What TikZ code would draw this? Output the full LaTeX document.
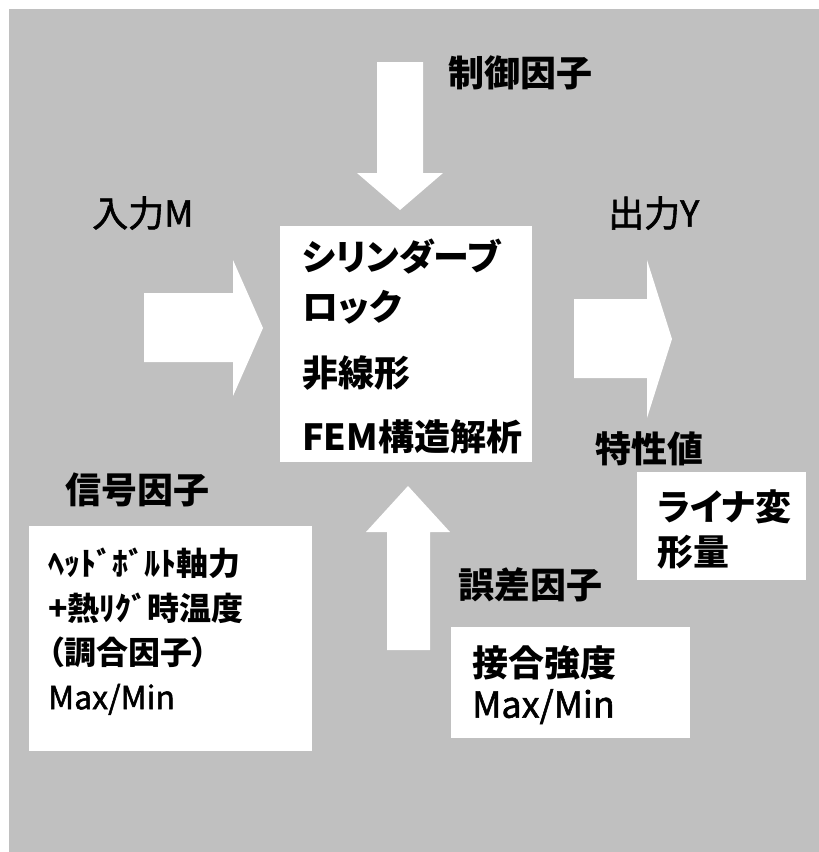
\documentclass[tikz,border=0pt]{standalone}
\usepackage{fontspec}
\newfontfamily\jpfont[RawFeature=+palt]{Noto Sans CJK JP}
\newfontfamily\jpmid[RawFeature=+palt, FakeBold=1.6]{Noto Sans CJK JP}
\usetikzlibrary{positioning}

\begin{document}
\begin{tikzpicture}[x=1pt, y=-1pt]

% ---------------------------------------------------------------- colours
\definecolor{bggray}{HTML}{C0C0C0}   % the panel
\definecolor{inkc}{HTML}{000000}     % all the words

\tikzset{
    blockarrow/.style={fill=white, draw=none},
    biglbl/.style={anchor=west, inner sep=0pt, text=inkc,
        font=\jpfont\bfseries\fontsize{36}{36}\selectfont,
        text height=31.7pt, text depth=4.3pt},
    plainlbl/.style={biglbl, font=\jpmid\fontsize{36}{36}\selectfont},
    smalllbl/.style={anchor=west, inner sep=0pt, text=inkc,
        font=\jpfont\bfseries\fontsize{32}{32}\selectfont,
        text height=28.2pt, text depth=3.8pt},
    smallplain/.style={smalllbl, font=\jpmid\fontsize{32}{32}\selectfont},
}

% ---------------------------------------------------------------- page and panel
\useasboundingbox (0,0) rectangle (819,852);
\fill[white] (0,0) rectangle (819,852);
\fill[bggray] (9,9) rectangle (819,852);

% ---------------------------------------------------------------- white boxes
\fill[white] (280,226) rectangle (532,462);   % the model
\fill[white] (29,526) rectangle (312,751);    % signal factor
\fill[white] (451,627) rectangle (690,738);   % error factor
\fill[white] (637,472) rectangle (806,580);   % characteristic

% ---------------------------------------------------------------- block arrows
% control, from above
\fill[blockarrow] (377,62) -- (423,62) -- (423,173) -- (443,173)
    -- (400,210) -- (357,173) -- (377,173) -- cycle;
% input, from the left
\fill[blockarrow] (144,293) -- (233,293) -- (233,260) -- (263,328)
    -- (233,396) -- (233,362) -- (144,362) -- cycle;
% output, to the right
\fill[blockarrow] (574,299) -- (647,299) -- (647,260) -- (672,339)
    -- (647,418) -- (647,378) -- (574,378) -- cycle;
% error, from below
\fill[blockarrow] (387,650) -- (430,650) -- (430,532) -- (450,532)
    -- (408,486) -- (366,532) -- (387,532) -- cycle;

% ---------------------------------------------------------------- labels outside
\node[biglbl] (ctrl) at (448,73) {制御因子};
\node[plainlbl] (inp) at (92,213) {入力M};
\node[plainlbl] (outp) at (608,213) {出力Y};
\node[biglbl] (chr) at (595,449) {特性値};
\node[biglbl] (sig) at (65,490) {信号因子};
\node[biglbl] (err) at (458,585) {誤差因子};

% ---------------------------------------------------------------- the model
\node[biglbl] (m1) at (302,257) {シリンダーブ};
\node[biglbl] (m2) at (302,307) {ロック};
\node[biglbl] (m3) at (302,373) {非線形};
\node[biglbl] (m4) at (302,437) {FEM構造解析};

% ---------------------------------------------------------------- box texts
\node[smalllbl] (s1) at (48,563) {ﾍｯﾄﾞﾎﾞﾙﾄ軸力};
\node[smalllbl] (s2) at (48,608) {+熱ﾘｸﾞ時温度};
\node[smalllbl] (s3) at (48,652) {（調合因子）};
\node[smallplain] (s4) at (48,697) {Max/Min};

\node[biglbl] (e1) at (472,663) {接合強度};
\node[plainlbl] (e2) at (472,704) {Max/Min};

\node[biglbl] (c1) at (657,507) {ライナ変};
\node[biglbl] (c2) at (657,552) {形量};

\end{tikzpicture}
\end{document}
